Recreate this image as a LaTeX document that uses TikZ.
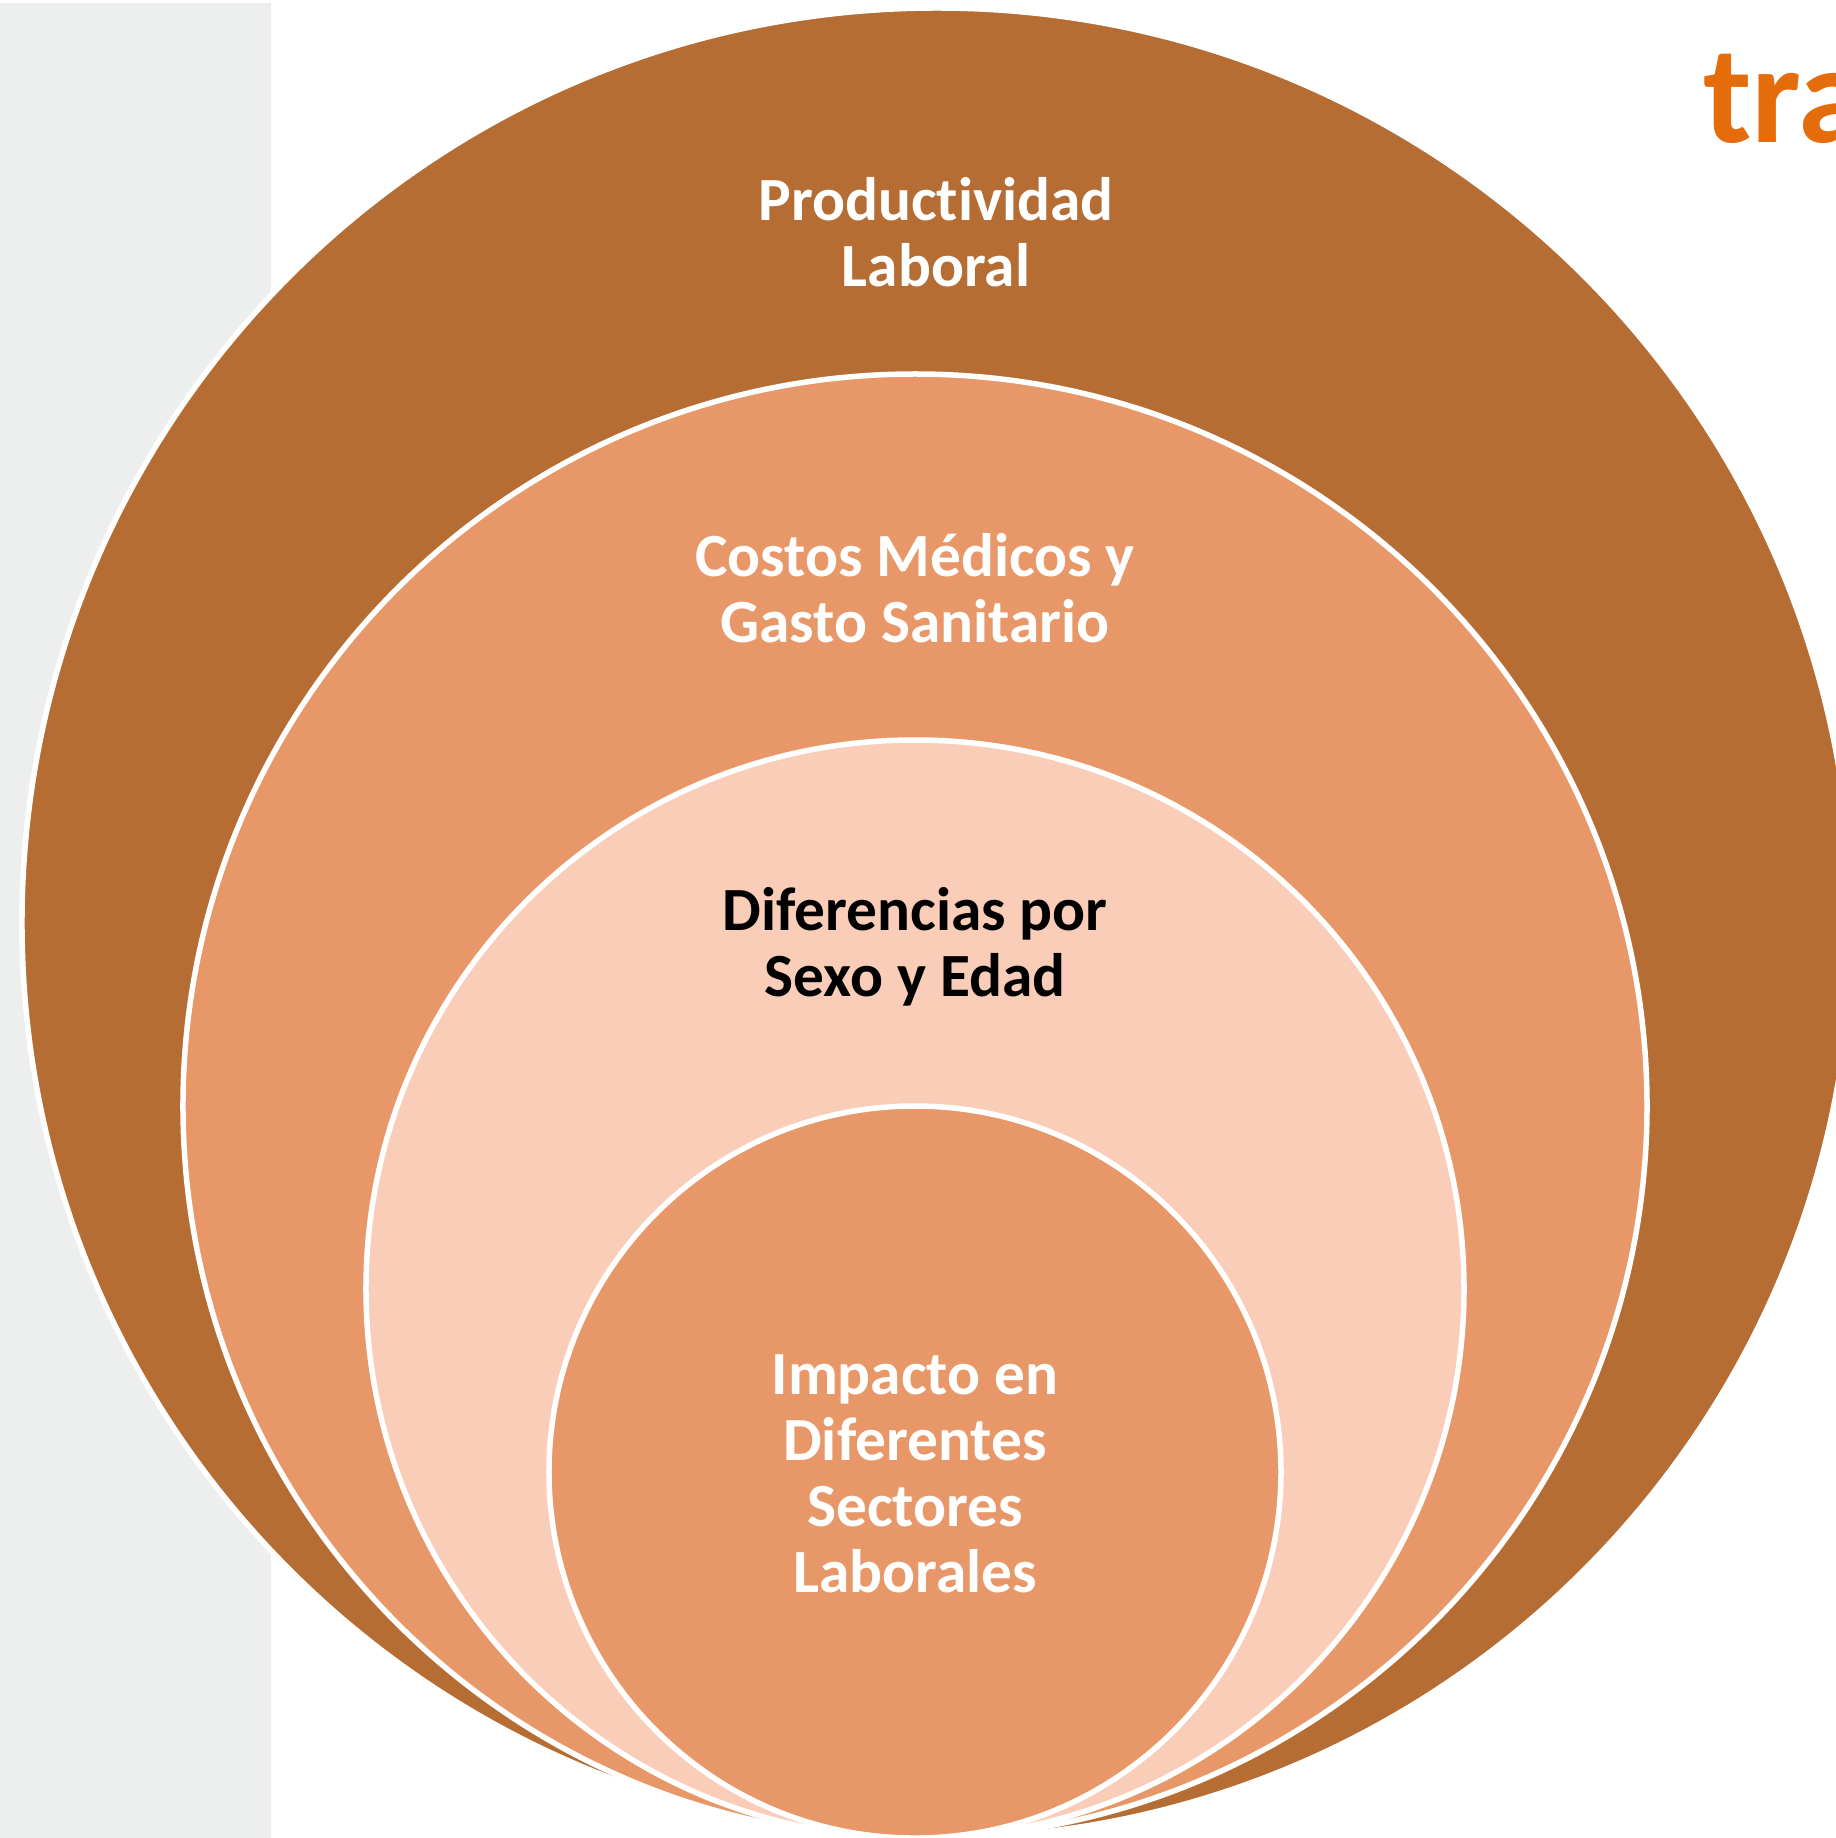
\documentclass[tikz,border=0pt]{standalone}
\usepackage{fontspec}
\setmainfont{Carlito}[Ligatures=NoCommon]
\definecolor{brownc}{RGB}{181,109,51}
\definecolor{salmon}{RGB}{232,152,104}
\definecolor{peach}{RGB}{250,205,184}
\definecolor{panelgrey}{RGB}{237,239,238}
\definecolor{logoorange}{RGB}{228,108,10}
\begin{document}
\begin{tikzpicture}[x=0.5bp,y=-0.5bp,
  ring/.style={draw=white, line width=2.75bp},
  lbl/.style={font=\bfseries\fontsize{30.7bp}{33bp}\selectfont, text=white, align=center, anchor=base, inner sep=0pt}]
\useasboundingbox (0,0) rectangle (1836,1838);
\fill[white] (0,0) rectangle (1836,1838);
\fill[panelgrey] (0,3) rectangle (271,1838);
\node[font=\bfseries\fontsize{70bp}{84bp}\selectfont, text=logoorange, anchor=base west, inner sep=0pt] (logo) at (1703,142) {tra};
\draw[ring, fill=brownc] (937,923) circle [radius=457.5bp];
\draw[ring, fill=salmon] (915,1106) circle [radius=366bp];
\draw[ring, fill=peach] (915,1289) circle [radius=274.5bp];
\draw[ring, fill=salmon] (915,1472) circle [radius=183bp];
% anchor=base is the baseline of the last line
\node[lbl] (prod) at (936,286) {Productividad\\Laboral};
\node[lbl] (cost) at (915,642) {Costos Médicos y\\Gasto Sanitario};
\node[lbl, text=black] (dif) at (915,996) {Diferencias por\\Sexo y Edad};
\node[lbl] (imp) at (915,1592) {Impacto en\\Diferentes\\Sectores\\Laborales};
\end{tikzpicture}
\end{document}
